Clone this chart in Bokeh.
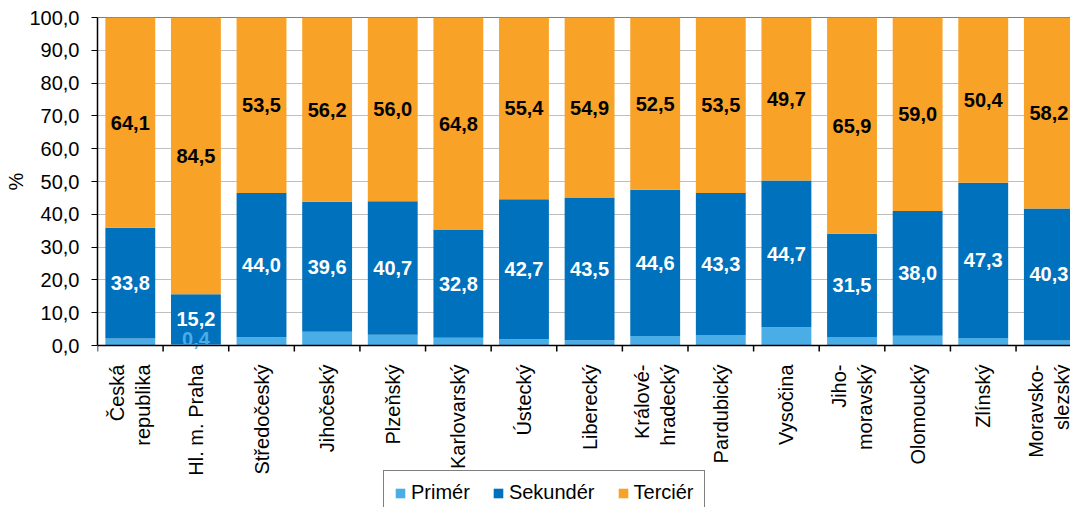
import math
from bokeh.plotting import figure
from bokeh.models import ColumnDataSource, Range1d, FixedTicker, Span, Title
from bokeh.core.properties import value
from bokeh.embed import file_html
from bokeh.resources import INLINE

categories = ["Česká\nrepublika", "Hl. m. Praha", "Středočeský", "Jihočeský", "Plzeňský",
              "Karlovarský", "Ústecký", "Liberecký", "Králové-\nhradecký", "Pardubický",
              "Vysočina", "Jiho-\nmoravský", "Olomoucký", "Zlínský", "Moravsko-\nslezský"]
primer = [2.1, 0.4, 2.5, 4.2, 3.3, 2.4, 1.9, 1.6, 2.9, 3.2, 5.6, 2.6, 3.0, 2.3, 1.5]
sekunder = [33.8, 15.2, 44.0, 39.6, 40.7, 32.8, 42.7, 43.5, 44.6, 43.3, 44.7, 31.5, 38.0, 47.3, 40.3]
tercier = [64.1, 84.5, 53.5, 56.2, 56.0, 64.8, 55.4, 54.9, 52.5, 53.5, 49.7, 65.9, 59.0, 50.4, 58.2]
primer_labelled = ["Hl. m. Praha"]
series_names = ["Primér", "Sekundér", "Terciér"]
y_ticks = [0, 10, 20, 30, 40, 50, 60, 70, 80, 90, 100]
y_title = "%"

colors = ["#4AADE6", "#0071BC", "#F8A227"]
FONT = "Liberation Sans"

# layout (pixels)
W, H = 1070, 507
TOP, AXIS_Y, LEFT = 17, 345, 97
PX_PER_UNIT = (AXIS_Y - TOP) / 100.0
Y_BOTTOM = -(H - AXIS_Y) / PX_PER_UNIT   # frame extends below the x axis (room for legend)
TICK_LEN = 6 / PX_PER_UNIT

def fmt(v):
    return f"{v:.1f}".replace(".", ",")

n = len(categories)
xs = [i + 0.5 for i in range(n)]
src = ColumnDataSource(dict(x=xs, primer=primer, sekunder=sekunder, tercier=tercier))

p = figure(width=W, height=H, output_backend="svg", toolbar_location=None,
           x_range=Range1d(0, 14.83), y_range=Range1d(Y_BOTTOM, 100),
           x_axis_location=None,
           min_border_left=LEFT, min_border_top=TOP, min_border_right=0, min_border_bottom=0)
p.outline_line_color = None
for g in p.grid:
    if g.dimension == 0:
        g.visible = False
p.ygrid.grid_line_color = "#BFBFBF"
p.ygrid.grid_line_width = 1
p.ygrid.ticker = FixedTicker(ticks=y_ticks)

p.vbar_stack(["primer", "sekunder", "tercier"], x="x", width=0.76, color=colors,
             line_color=None, source=src, legend_label=series_names)

p.add_layout(Span(location=100, dimension="width", line_color="black", line_width=1, level="underlay"))
p.add_layout(Span(location=0, dimension="width", line_color="black", line_width=1.5))

# category axis: tick marks at category boundaries and rotated labels
bounds = list(range(n + 1))
p.segment(x0=bounds, y0=[0] * (n + 1), x1=bounds, y1=[-TICK_LEN] * (n + 1),
          line_color="black", line_width=1.5)
cat_src = ColumnDataSource(dict(x=xs, y=[0] * n, t=categories))
p.text(x="x", y="y", text="t", source=cat_src, angle=math.pi / 2, y_offset=19,
       text_align="right", text_baseline="middle", text_color="black",
       text_font=value(FONT), text_font_size=value("20px"))

# value labels
sek_y = [pr + s / 2 for pr, s in zip(primer, sekunder)]
ter_y = [pr + s + t / 2 for pr, s, t in zip(primer, sekunder, tercier)]
lab_src = ColumnDataSource(dict(x=xs, sy=sek_y, ty=ter_y,
                                st=[fmt(v) for v in sekunder], tt=[fmt(v) for v in tercier]))
p.text(x="x", y="sy", text="st", source=lab_src, text_color="white", text_align="center",
       text_baseline="middle", text_font=value(FONT), text_font_size=value("20px"),
       text_font_style="bold")
p.text(x="x", y="ty", text="tt", source=lab_src, text_color="black", text_align="center",
       text_baseline="middle", text_font=value(FONT), text_font_size=value("20px"),
       text_font_style="bold")
idx = [categories.index(c) for c in primer_labelled]
pr_src = ColumnDataSource(dict(x=[xs[i] for i in idx], y=[primer[i] / 2 for i in idx],
                               t=[fmt(primer[i]) for i in idx]))
p.text(x="x", y="y", text="t", source=pr_src, text_color=colors[0], text_align="center",
       text_baseline="middle", y_offset=-6, text_font=value(FONT), text_font_size=value("20px"),
       text_font_style="bold")

# y axis
ya = p.yaxis[0]
ya.bounds = (0, 100)
ya.ticker = FixedTicker(ticks=y_ticks)
ya.major_label_overrides = {t: fmt(t) for t in y_ticks}
ya.minor_tick_line_color = None
ya.major_tick_out = 6
ya.major_tick_in = 0
ya.major_tick_line_color = "black"
ya.major_label_standoff = 12
ya.axis_line_color = "black"
ya.axis_line_width = 1.5
ya.major_label_text_font = FONT
ya.major_label_text_font_size = "20px"
ya.major_label_text_color = "black"

# y axis title, centred on the 0-100 part of the axis (offset measured up from frame bottom)
axis_mid = (TOP + AXIS_Y) / 2
p.add_layout(Title(text=y_title, align="left", offset=H - axis_mid - 9, standoff=0,
                   text_font=FONT, text_font_size="20px", text_font_style="normal",
                   text_color="black"), "left")

lg = p.legend[0]
lg.orientation = "horizontal"
lg.location = (286, -8)
lg.margin = 0
lg.padding = 10
lg.spacing = 22
lg.glyph_width = 12
lg.glyph_height = 12
lg.label_standoff = 5
lg.label_text_font = FONT
lg.label_text_font_size = "20px"
lg.label_text_color = "black"
lg.border_line_color = "black"
lg.border_line_width = 1.5
lg.background_fill_color = "white"
lg.background_fill_alpha = 1

open("out.html", "w").write(file_html(p, INLINE))
